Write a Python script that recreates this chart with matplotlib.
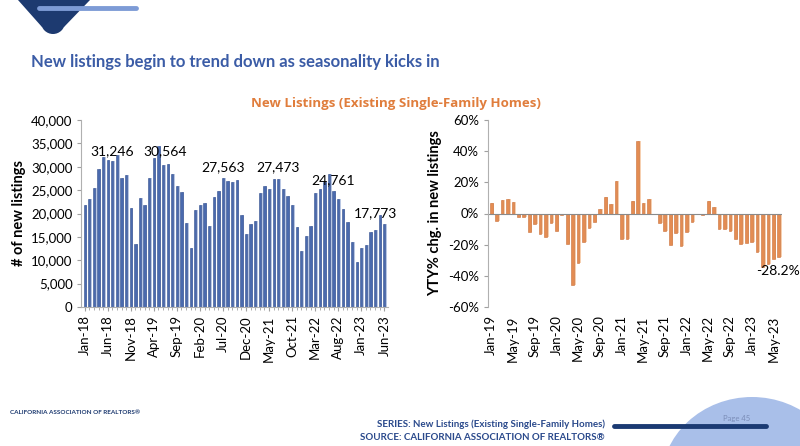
import numpy as np
import matplotlib
matplotlib.use("Agg")
import matplotlib.pyplot as plt
from matplotlib.patches import Polygon, Circle, Ellipse

plt.rcParams.update({"font.family": "Lato", "font.size": 9})

# ---- data ----
listing_months = ["Jan-18", "Feb-18", "Mar-18", "Apr-18", "May-18", "Jun-18", "Jul-18", "Aug-18", "Sep-18", "Oct-18", "Nov-18", "Dec-18",
                  "Jan-19", "Feb-19", "Mar-19", "Apr-19", "May-19", "Jun-19", "Jul-19", "Aug-19", "Sep-19", "Oct-19", "Nov-19", "Dec-19",
                  "Jan-20", "Feb-20", "Mar-20", "Apr-20", "May-20", "Jun-20", "Jul-20", "Aug-20", "Sep-20", "Oct-20", "Nov-20", "Dec-20",
                  "Jan-21", "Feb-21", "Mar-21", "Apr-21", "May-21", "Jun-21", "Jul-21", "Aug-21", "Sep-21", "Oct-21", "Nov-21", "Dec-21",
                  "Jan-22", "Feb-22", "Mar-22", "Apr-22", "May-22", "Jun-22", "Jul-22", "Aug-22", "Sep-22", "Oct-22", "Nov-22", "Dec-22",
                  "Jan-23", "Feb-23", "Mar-23", "Apr-23", "May-23", "Jun-23"]
new_listings = [21900, 23100, 25500, 29500, 32000, 31500, 31246, 32600, 27700, 28200, 21200, 13400,
                23300, 21800, 27700, 31900, 34500, 30400, 30564, 28500, 25800, 24600, 18000, 12700,
                20800, 21900, 22300, 17400, 23500, 24900, 27563, 26900, 26700, 27100, 19600, 15600,
                17700, 18500, 24400, 25800, 25200, 27400, 27473, 25300, 23800, 21800, 17100, 12000,
                15200, 17400, 24400, 25300, 26700, 28500, 24761, 23000, 21000, 18200, 13800, 9600,
                12700, 13200, 16000, 16400, 19600, 17773]
labelled_months = ["Jul-18", "Jul-19", "Jul-20", "Jul-21", "Jul-22", "Jun-23"]
left_tick_labels = ["Jan-18", "Jun-18", "Nov-18", "Apr-19", "Sep-19", "Feb-20", "Jul-20",
                    "Dec-20", "May-21", "Oct-21", "Mar-22", "Aug-22", "Jan-23", "Jun-23"]

yty_months = listing_months[12:]
yty_change = [7, -5, 8.5, 9.5, 7.5, -2, -2.5, -12, -7, -13, -15, -6,
              -11, -1, -19.5, -46, -32, -18.5, -9, -5.5, 3, 10.5, 6.2, 20.8,
              -16.3, -16.3, 8, 46.8, 6.6, 9.3, -0.5, -6, -11, -20, -12.3, -21,
              -11.7, -5.3, -0.5, -1, 8, 4.3, -10, -10, -11, -16.6, -19.6, -18.7,
              -18, -25, -34.5, -32.3, -29, -28.2]
right_tick_labels = ["Jan-19", "May-19", "Sep-19", "Jan-20", "May-20", "Sep-20", "Jan-21",
                     "May-21", "Sep-21", "Jan-22", "May-22", "Sep-22", "Jan-23", "May-23"]

W, H = 800, 446
fig = plt.figure(figsize=(W / 100, H / 100), dpi=100)

# background layer in pixel coordinates (decor + text)
bg = fig.add_axes([0, 0, 1, 1], zorder=0)
bg.set_xlim(0, W)
bg.set_ylim(H, 0)
bg.axis("off")

# top-left logo shape
bg.add_patch(Polygon([(18, 0), (90, 0), (64, 27), (42, 27)], closed=True, color="#1d3a70", lw=0))
bg.add_patch(Circle((53, 22), 12, color="#1d3a70", lw=0))
bg.plot([39, 136], [8, 8], color="#7d9bd6", lw=3.5, solid_capstyle="round")

# bottom-right hump + bar
bg.add_patch(Ellipse((752, 482), 182, 170, color="#a9bfe9", lw=0))
bg.plot([614, 766], [426, 426], color="#1b3a73", lw=3.5, solid_capstyle="round")
bg.text(737, 418, "Page 45", fontsize=5.5, color="#7b8db8", ha="center", va="center")

# title / subtitle
title = bg.text(31, 62, "New listings begin to trend down as seasonality kicks in",
                fontsize=18, fontweight="bold", color="#3b5ca6", ha="left", va="center")
bg.text(396, 103, "New Listings (Existing Single-Family Homes)", fontsize=9.5,
        fontweight="bold", color="#e07d3c", ha="center", va="center", family="Open Sans")

# footer
bg.text(10, 413, "CALIFORNIA ASSOCIATION OF REALTORS\u00ae", fontsize=4.6, fontweight="bold",
        color="#1d3a70", ha="left", va="center")
bg.text(605, 424, "SERIES: New Listings (Existing Single-Family Homes)", fontsize=7,
        color="#2b4a8c", ha="right", va="center", fontweight="bold")
bg.text(605, 437, "SOURCE: CALIFORNIA ASSOCIATION OF REALTORS\u00ae", fontsize=7,
        color="#2b4a8c", ha="right", va="center", fontweight="bold")

# ---- left chart: new listings ----
ax1 = fig.add_axes([81 / W, 1 - 307 / H, 307 / W, 187 / H], zorder=1)
ax1.patch.set_alpha(0)
x1 = np.arange(len(new_listings))
ax1.bar(x1 + 0.3, new_listings, width=0.55, color="#b9c7e4", lw=0)
ax1.bar(x1, new_listings, width=0.5, color="#4a6aae", edgecolor="#34508e", lw=0.4)
ax1.set_xlim(-0.8, len(new_listings) - 0.2)
ax1.set_ylim(0, 40000)
ax1.set_yticks(np.arange(0, 40001, 5000))
ax1.set_yticklabels([f"{v:,}" for v in range(0, 40001, 5000)], fontsize=9.5)
ax1.set_xticks([listing_months.index(m) for m in left_tick_labels])
ax1.set_xticklabels(left_tick_labels, rotation=90, fontsize=9.5)
ax1.set_xticks(x1, minor=True)
ax1.tick_params(axis="x", which="minor", length=2, color="#a0a0a0")
ax1.tick_params(axis="both", which="major", length=3, color="#a0a0a0", pad=3)
for s in ["top", "right"]:
    ax1.spines[s].set_visible(False)
for s in ["left", "bottom"]:
    ax1.spines[s].set_color("#b0b0b0")
ax1.set_ylabel("# of new listings", fontsize=10.5, fontweight="bold", labelpad=4)

label_dx = [0, -0.5, 0, 0, 0, -2]
label_y = [33300, 33300, 30000, 30000, 27200, 20100]
for m, dx, ly in zip(labelled_months, label_dx, label_y):
    i = listing_months.index(m)
    ax1.text(i + dx, ly, f"{new_listings[i]:,}", ha="center", va="center", fontsize=10)

# ---- right chart: YTY % change ----
ax2 = fig.add_axes([488 / W, 1 - 307 / H, 294 / W, 187 / H], zorder=1)
ax2.patch.set_alpha(0)
x2 = np.arange(len(yty_change))
ax2.bar(x2 + 0.3, yty_change, width=0.55, color="#f6cfb0", lw=0)
ax2.bar(x2, yty_change, width=0.5, color="#e48c52", edgecolor="#c9703a", lw=0.4)
ax2.axhline(0, color="#8a8a8a", lw=0.8)
ax2.set_xlim(-0.6, len(yty_change) - 0.4)
ax2.set_ylim(-60, 60)
ax2.set_yticks(np.arange(-60, 61, 20))
ax2.set_yticklabels([f"{v}%" for v in range(-60, 61, 20)], fontsize=9.5)
ax2.set_xticks([yty_months.index(m) for m in right_tick_labels])
ax2.set_xticklabels(right_tick_labels, rotation=90, fontsize=9.5)
ax2.tick_params(axis="x", length=0, pad=6)
ax2.tick_params(axis="y", length=3, color="#a0a0a0")
for s in ["top", "right", "bottom"]:
    ax2.spines[s].set_visible(False)
ax2.spines["left"].set_color("#b0b0b0")
ax2.set_ylabel("YTY% chg. in new listings", fontsize=10.5, fontweight="bold", labelpad=4)
ax2.text(len(yty_change) + 2.9, yty_change[-1] - 9, f"{yty_change[-1]}%", ha="right",
         va="center", fontsize=10, clip_on=False)

# fit title width to the reference
fig.canvas.draw()
bb = title.get_window_extent()
title.set_fontsize(18 * 412 / bb.width)

fig.savefig("out.png", dpi=100)
